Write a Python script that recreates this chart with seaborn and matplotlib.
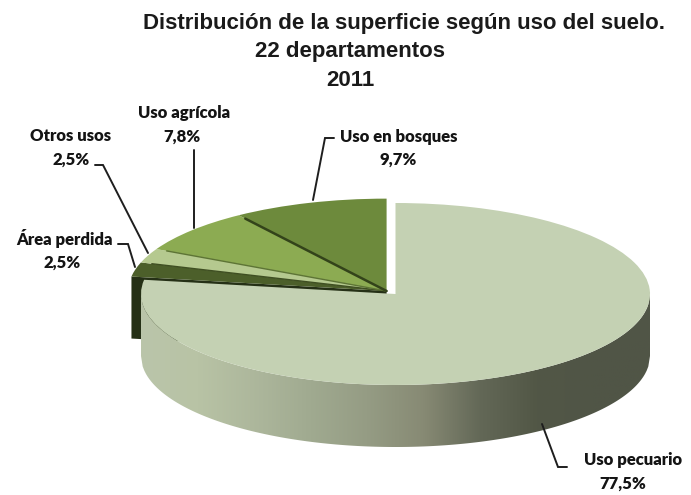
# -*- coding: utf-8 -*-
import numpy as np
import seaborn as sns
import matplotlib.pyplot as plt
from matplotlib.colors import ListedColormap
from matplotlib.patches import Polygon
from matplotlib.transforms import Affine2D

# datos
usos = ['Uso pecuario', 'Área perdida', 'Otros usos', 'Uso agrícola', 'Uso en bosques']
valores = [77.5, 2.5, 2.5, 7.8, 9.7]
colores = ['#c4d1b3', '#4c5f2a', '#b5c98f', '#8cab52', '#6d8a3c']
color_pared = ['#bac5aa', '#b8c3a5', '#adb79c', '#a0aa90', '#959c84',
               '#878a74', '#636857', '#525746', '#505546', '#505546']
titulos = ['Distribución de la superficie según uso del suelo.', '22 departamentos', '2011']

# posiciones en pixeles de la imagen
W, H = 691, 495
cx, cy, a, b = 395.5, 294, 254.5, 91   # elipse del pie
prof = 62                              # profundidad del cilindro
titulo_xy = [(404, 23), (350, 52), (350, 81)]
nombre_xy = [(633, 460), (64, 239), (71, 136), (184, 113), (399, 137)]
pct_xy = [(623, 484), (62, 263), (71, 160), (182, 137), (398, 160)]
guias = [[(542, 424), (558, 467), (567, 467)],
         [(118, 244), (128, 244), (135, 267)],
         [(95, 165), (103, 165), (148, 253)],
         [(194, 150), (194, 228)],
         [(313, 200), (325, 138), (334, 138)]]

sns.set_theme(style='white')
plt.rcParams['font.family'] = ['Lato', 'DejaVu Sans']

fig = plt.figure(figsize=(W / 100, H / 100), dpi=100)
ax = fig.add_axes([0, 0, 1, 1])
px = Affine2D().scale(1, -1).translate(0, H)  # pixeles -> display

wedges, _ = ax.pie(valores, colors=colores, startangle=90, counterclock=False,
                   radius=1, wedgeprops={'linewidth': 0, 'edgecolor': 'none'})
ax.set_aspect('auto')
ax.axis('off')

# el resto de porciones va separado del pecuario
centro2 = (-0.035, 0.033)
for w in wedges[1:]:
    w.set_center(centro2)
    w.set_radius(1.015)
    w.set_zorder(2)
wedges[0].set_zorder(4)

d = prof / b

# pared del cilindro con degradado
xs = np.linspace(-1, 1, 300)
arriba = -np.sqrt(1 - xs ** 2)
contorno = np.r_[np.c_[xs, arriba], np.c_[xs[::-1], arriba[::-1] - d]]
cmap = ListedColormap(sns.blend_palette(color_pared, 256))
img = ax.imshow(np.linspace(0, 1, 256).reshape(1, -1), cmap=cmap, aspect='auto',
                extent=(-1, 1, -1 - d, 0), zorder=3)
img.set_clip_path(Polygon(contorno, transform=ax.transData))
ax.set_xlim(-cx / a, (W - cx) / a)
ax.set_ylim(-(H - cy) / b, cy / b)

# cara oscura bajo el área perdida
t = np.deg2rad(wedges[1].theta2)
ex, ey = centro2[0] + 1.015 * np.cos(t), centro2[1] + 1.015 * np.sin(t)
ax.add_patch(Polygon([centro2, (ex, ey), (ex, ey - d), (centro2[0], centro2[1] - d)],
                     facecolor='#253016', edgecolor='none', zorder=1))

# lineas entre porciones
for w, color, lw in zip(wedges[2:], ['#3f4f22', '#5d7435', '#33431a'], [1, 1, 1.8]):
    t = np.deg2rad(w.theta2)
    ax.plot([centro2[0], centro2[0] + 0.97 * np.cos(t)],
            [centro2[1], centro2[1] + 0.97 * np.sin(t)], color=color, lw=lw, zorder=3)

# guias de las etiquetas
for g in guias:
    g = np.array(g)
    ax.plot(g[:, 0], g[:, 1], color='#1e1e1e', lw=1.4, transform=px,
            solid_joinstyle='miter', zorder=5)

# etiquetas
for u, v, n_xy, p_xy in zip(usos, valores, nombre_xy, pct_xy):
    ax.text(n_xy[0], n_xy[1], u, transform=px, ha='center', va='center',
            fontsize=12, fontweight='heavy', color='#141414', zorder=6)
    ax.text(p_xy[0], p_xy[1], f'{v:.1f}%'.replace('.', ','), transform=px, ha='center',
            va='center', fontsize=12, fontweight='heavy', color='#141414', zorder=6)

# titulo
for txt, (x, y) in zip(titulos, titulo_xy):
    ax.text(x, y, txt, transform=px, ha='center', va='center', fontsize=16,
            fontweight='bold', color='#1a1a1a', family=['Liberation Sans', 'DejaVu Sans'])

fig.savefig('out.png', dpi=100)
